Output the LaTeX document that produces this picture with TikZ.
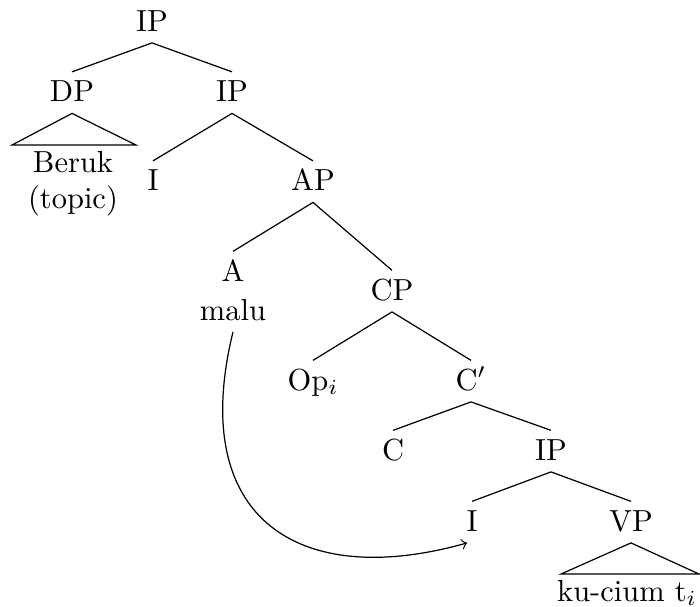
\documentclass[tikz,border=0pt]{standalone}

\tikzset{
  cat/.style={anchor=base, inner ysep=2.7pt, text height=6.83pt, text depth=1pt},
  word/.style={anchor=base, inner sep=0pt}
}

\begin{document}
\begin{tikzpicture}[x=0.328pt, y=-0.328pt]
\useasboundingbox (0,0) rectangle (700,606);

\node[cat] (ipa) at (152,31) {IP};
\node[cat] (dp) at (72,101.5) {DP};
\node[cat] (ipb) at (232,101.5) {IP};
\node[word] (beruk) at (73,172) {Beruk};
\node[word] (topic) at (73,208) {(topic)};
\node[cat] (ia) at (153,190.5) {I};
\node[cat] (ap) at (313,190.5) {AP};
\node[cat] (a) at (233,281) {A};
\node[cat] (malu) at (233,320) {malu};
\node[cat] (cp) at (392,300) {CP};
\node[cat] (op) at (313,390) {Op$_i$};
\node[cat] (cbar) at (471,390) {C$'$};
\node[cat] (c) at (393,460) {C};
\node[cat] (ipc) at (551,460) {IP};
\node[cat] (ib) at (472,531) {I};
\node[cat] (vp) at (631,531) {VP};
\node[word] (kucium) at (627,601) {ku-cium t$_i$};

% branches
\draw (ipa.south) -- (dp.north);
\draw (ipa.south) -- (ipb.north);
\draw (ipb.south) -- (ia.north);
\draw (ipb.south) -- (ap.north);
\draw (ap.south) -- (a.north);
\draw (ap.south) -- (cp.north);
\draw (cp.south) -- (op.north);
\draw (cp.south) -- (cbar.north);
\draw (cbar.south) -- (c.north);
\draw (cbar.south) -- (ipc.north);
\draw (ipc.south) -- (ib.north);
\draw (ipc.south) -- (vp.north);

% roofs
\draw (dp.south) -- (12,145) -- (136,145) -- cycle;
\draw (vp.south) -- (561,574) -- (699,574) -- cycle;

% movement
\draw[->] (malu.south) .. controls (187,520) and (300,590) .. ([xshift=-1.6pt]ib.south);
\end{tikzpicture}
\end{document}
